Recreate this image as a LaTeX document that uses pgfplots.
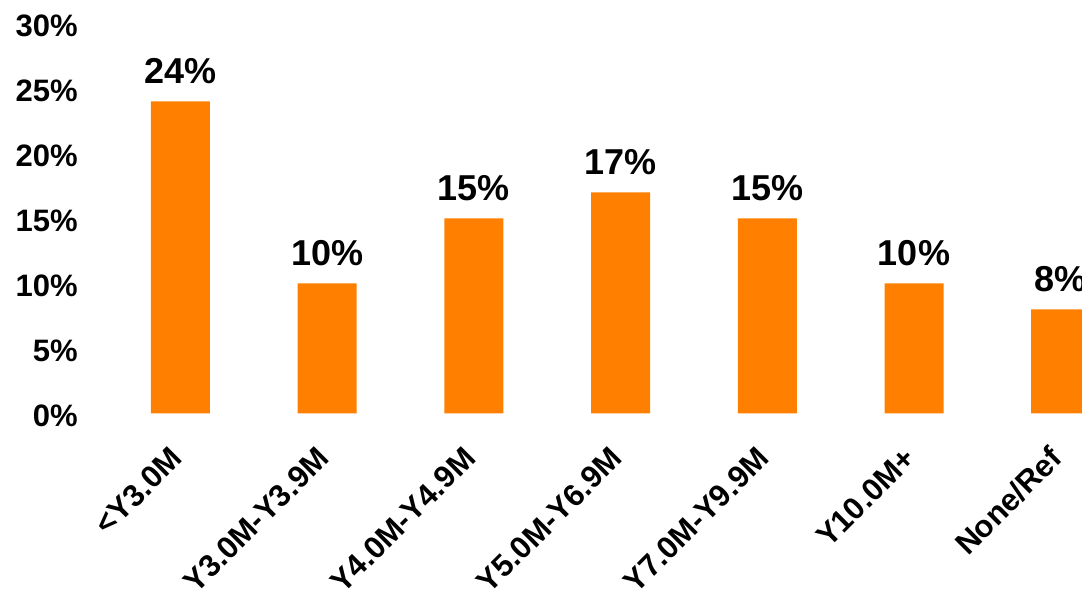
\documentclass[border=0pt]{standalone}
\usepackage{fontspec}
\setmainfont{Liberation Sans}
\usepackage{pgfplots}
\pgfplotsset{compat=1.18}
\definecolor{barorange}{RGB}{255,127,0}
\begin{document}
\begin{tikzpicture}
\begin{axis}[
  anchor=origin, at={(0pt,0pt)},
  x=146.7pt, y=13pt,
  xmin=-0.6, xmax=6.5, ymin=0, ymax=30,
  clip=false,
  axis line style={draw=none},
  tick style={draw=none},
  major tick length=0pt,
  ybar, bar width=59pt,
  xtick={0,1,2,3,4,5,6},
  xticklabels={{<Y3.0M},{Y3.0M-Y3.9M},{Y4.0M-Y4.9M},{Y5.0M-Y6.9M},{Y7.0M-Y9.9M},{Y10.0M+},{None/Ref}},
  ytick={0,5,10,15,20,25,30},
  yticklabel={\pgfmathprintnumber{\tick}\%},
  /pgf/number format/assume math mode=true,
  yticklabel style={font=\fontsize{31}{37}\selectfont\bfseries, anchor=east, inner sep=0pt, xshift=-14.5pt, yshift=-3pt},
  xticklabel style={font=\fontsize{31}{37}\selectfont\bfseries, inner sep=0pt, xshift=-4pt, yshift=-39.5pt, rotate=45, anchor=east},
  nodes near coords={\pgfmathprintnumber[precision=0]{\pgfplotspointmeta}\%},
  every node near coord/.append style={font=\fontsize{36}{43}\selectfont\bfseries, anchor=base, inner sep=0pt, yshift=18pt, text=black},
]
\addplot[fill=barorange, draw=none] coordinates {(0,24) (1,10) (2,15) (3,17) (4,15) (5,10) (6,8)};
\end{axis}
\pgfresetboundingbox
\path[use as bounding box] (-180.5pt,-185.7pt) rectangle (901.5pt,413.3pt);
\end{tikzpicture}
\end{document}
